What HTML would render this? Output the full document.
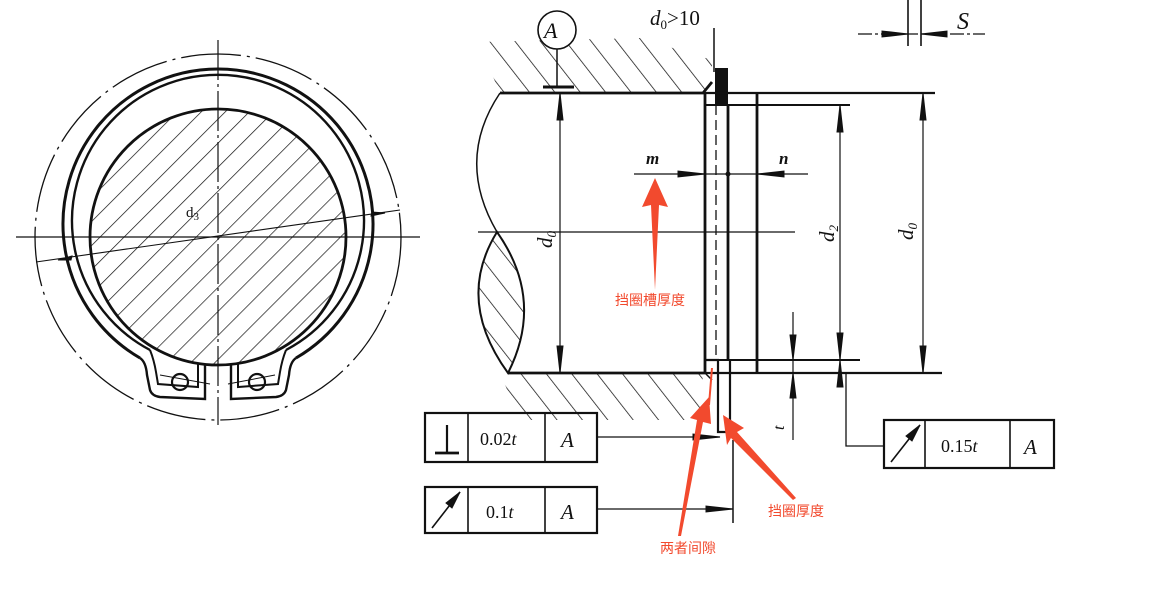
<!DOCTYPE html>
<html><head><meta charset="utf-8"><style>
html,body{margin:0;padding:0;background:#fff;}
svg{display:block;}
text{font-family:"Liberation Serif",serif;fill:#111;}
.cn{font-family:"Liberation Sans","Noto Sans CJK SC",sans-serif;fill:#f24a2e;font-size:14px;}
</style></head><body>
<svg width="1161" height="593" viewBox="0 0 1161 593" xmlns="http://www.w3.org/2000/svg">
<defs>
<pattern id="h1" patternUnits="userSpaceOnUse" width="17" height="17" patternTransform="rotate(45)">
<line x1="0" y1="0" x2="0" y2="17" stroke="#111" stroke-width="1.4"/></pattern>
<pattern id="h2" patternUnits="userSpaceOnUse" width="20" height="20" patternTransform="rotate(-38)">
<line x1="0" y1="0" x2="0" y2="20" stroke="#111" stroke-width="1.5"/></pattern>
<clipPath id="shaft"><circle cx="218" cy="237" r="128"/></clipPath>
</defs>
<g fill="none" stroke="#111">
<circle cx="218" cy="237" r="183" stroke-width="1.3" stroke-dasharray="60 6 3 6"/>
<path d="M140,358 A155,155 0 1 1 296,358" stroke-width="3"/>
<path d="M150,350 A146,146 0 1 1 286,350" stroke-width="2.4"/>
<circle cx="218" cy="237" r="128" stroke-width="2.8"/>
<rect x="88" y="108" width="260" height="260" fill="url(#h1)" stroke="none" clip-path="url(#shaft)"/>
<path d="M140,358 Q146,362 147,375 L150,390 Q152,396 160,397 L205,399 L205,364" stroke-width="2.4"/>
<path d="M150,350 Q154,360 156,372 L158,384 L198,387 L198,364" stroke-width="2"/>
<path d="M296,358 Q290,362 289,375 L286,390 Q284,396 276,397 L231,399 L231,364" stroke-width="2.4"/>
<path d="M286,350 Q282,360 280,372 L278,384 L238,387 L238,364" stroke-width="2"/>
<circle cx="180" cy="382" r="8" stroke-width="2.2"/>
<circle cx="257" cy="382" r="8" stroke-width="2.2"/>
<line x1="218" y1="40" x2="218" y2="425" stroke-width="1.2" stroke-dasharray="40 4 3 4"/>
<line x1="16" y1="237" x2="420" y2="237" stroke-width="1.3"/>
<line x1="36" y1="262" x2="400" y2="210" stroke-width="1.1"/>
<path d="M58,260 L72,256 L71,260Z M385,213 L371,216 L372,212Z" fill="#111"/>
<line x1="160" y1="375" x2="210" y2="384" stroke-width="1"/>
<line x1="228" y1="384" x2="275" y2="375" stroke-width="1"/>

<path d="M478,42 L640,38 L712,60 L712,82 L703,93 L500,93Z" fill="url(#h2)" stroke="none"/>
<path d="M500,373 L703,373 L700,420 L520,420Z" fill="url(#h2)" stroke="none"/>
<path d="M500,93 L703,93 L712,82" stroke-width="2.8"/>
<path d="M508,373 L705,373" stroke-width="2.8"/>
<path d="M500,93 Q455,160 497,232" stroke-width="1.5"/>
<path d="M497,232 Q455,300 508,373 Q545,300 497,232Z" fill="url(#h2)" stroke-width="2"/>
<line x1="478" y1="232" x2="795" y2="232" stroke-width="1.3"/>
<line x1="705" y1="93" x2="705" y2="373" stroke-width="2.8"/>
<line x1="728" y1="105" x2="728" y2="360" stroke-width="2.8"/>
<rect x="715" y="68" width="13" height="37" fill="#111" stroke="none"/>
<line x1="716" y1="105" x2="716" y2="360" stroke-width="1.3" stroke-dasharray="10 5"/>
<line x1="714" y1="28" x2="714" y2="72" stroke-width="1.5"/>
<path d="M705,360 L718,360 L718,432 L730,432 L730,360" stroke-width="2.2"/>
<path d="M705,373 L712,380" stroke-width="1.5"/>
<line x1="757" y1="93" x2="757" y2="373" stroke-width="2.8"/>
<line x1="703" y1="93" x2="935" y2="93" stroke-width="2.2"/>
<line x1="705" y1="105" x2="850" y2="105" stroke-width="2"/>
<line x1="705" y1="360" x2="860" y2="360" stroke-width="2"/>
<line x1="705" y1="373" x2="942" y2="373" stroke-width="2.2"/>
<line x1="560" y1="93" x2="560" y2="373" stroke-width="1.2"/>
<path d="M560,93 L557,120 L563,120Z M560,373 L557,346 L563,346Z" fill="#111"/>
<line x1="634" y1="174" x2="808" y2="174" stroke-width="1.3"/>
<path d="M705,174 L678,171 L678,177Z M757,174 L784,171 L784,177Z" fill="#111"/>
<circle cx="728" cy="174" r="2" fill="#111"/>
<line x1="840" y1="105" x2="840" y2="380" stroke-width="1.2"/>
<path d="M840,105 L837,132 L843,132Z M840,360 L837,333 L843,333Z M840,360 L837,387 L843,387Z" fill="#111"/>
<line x1="923" y1="93" x2="923" y2="373" stroke-width="1.2"/>
<path d="M923,93 L920,120 L926,120Z M923,373 L920,346 L926,346Z" fill="#111"/>
<line x1="793" y1="312" x2="793" y2="440" stroke-width="1.2"/>
<path d="M793,360 L790,335 L796,335Z M793,373 L790,398 L796,398Z" fill="#111"/>
<circle cx="557" cy="30" r="19" stroke-width="1.6" fill="#fff"/>
<line x1="557" y1="49" x2="557" y2="86" stroke-width="1.5"/>
<line x1="543" y1="87" x2="574" y2="87" stroke-width="3"/>
<line x1="908" y1="0" x2="908" y2="46" stroke-width="1.6"/>
<line x1="921" y1="0" x2="921" y2="46" stroke-width="1.6"/>
<line x1="858" y1="34" x2="985" y2="34" stroke-width="1.2" stroke-dasharray="14 3 3 3"/>
<path d="M908,34 L882,31 L882,37Z M921,34 L947,31 L947,37Z" fill="#111"/>
<rect x="425" y="413" width="172" height="49" stroke-width="2.2"/>
<line x1="468" y1="413" x2="468" y2="462" stroke-width="1.6"/>
<line x1="545" y1="413" x2="545" y2="462" stroke-width="1.6"/>
<line x1="447" y1="425" x2="447" y2="452" stroke-width="2.2"/>
<line x1="435" y1="453" x2="459" y2="453" stroke-width="2.8"/>
<line x1="597" y1="437" x2="720" y2="437" stroke-width="1.3"/>
<path d="M720,437 L693,434 L693,440Z" fill="#111"/>
<rect x="425" y="487" width="172" height="46" stroke-width="2.2"/>
<line x1="468" y1="487" x2="468" y2="533" stroke-width="1.6"/>
<line x1="545" y1="487" x2="545" y2="533" stroke-width="1.6"/>
<line x1="432" y1="528" x2="460" y2="492" stroke-width="1.6"/>
<path d="M460,492 L446,503 L452,508Z" fill="#111"/>
<line x1="597" y1="509" x2="733" y2="509" stroke-width="1.3"/>
<path d="M733,509 L706,506 L706,512Z" fill="#111"/>
<line x1="733" y1="440" x2="733" y2="523" stroke-width="1.5"/>
<rect x="884" y="420" width="170" height="48" stroke-width="2.2"/>
<line x1="925" y1="420" x2="925" y2="468" stroke-width="1.6"/>
<line x1="1010" y1="420" x2="1010" y2="468" stroke-width="1.6"/>
<line x1="891" y1="462" x2="920" y2="425" stroke-width="1.6"/>
<path d="M920,425 L906,436 L912,441Z" fill="#111"/>
<path d="M884,446 L846,446 L846,373" stroke-width="1.3"/>
</g>
<text x="544" y="38" font-size="22" font-style="italic">A</text>
<text x="650" y="25" font-size="21" font-style="italic">d<tspan font-size="13" dy="4" font-style="normal">0</tspan><tspan dy="-4" font-style="normal">&gt;10</tspan></text>
<text x="957" y="29" font-size="24" font-style="italic">S</text>
<text x="646" y="164" font-size="17" font-style="italic" font-weight="bold">m</text>
<text x="779" y="164" font-size="17" font-style="italic" font-weight="bold">n</text>
<text x="186" y="217" font-size="15">d<tspan font-size="11" dy="3">3</tspan></text>
<text transform="translate(552,248) rotate(-90)" font-size="21" font-style="italic">d<tspan font-size="13" dy="4">0</tspan></text>
<text transform="translate(834,242) rotate(-90)" font-size="21" font-style="italic">d<tspan font-size="13" dy="4">2</tspan></text>
<text transform="translate(913,240) rotate(-90)" font-size="21" font-style="italic">d<tspan font-size="13" dy="4">0</tspan></text>
<text transform="translate(784,430) rotate(-90)" font-size="16" font-style="italic">t</text>
<text x="480" y="445" font-size="18">0.02<tspan font-style="italic">t</tspan></text>
<text x="561" y="447" font-size="21" font-style="italic">A</text>
<text x="486" y="518" font-size="18">0.1<tspan font-style="italic">t</tspan></text>
<text x="561" y="519" font-size="21" font-style="italic">A</text>
<text x="941" y="452" font-size="18">0.15<tspan font-style="italic">t</tspan></text>
<text x="1024" y="454" font-size="21" font-style="italic">A</text>
<g fill="#f24a2e" stroke="none">
<path d="M655,178 L642,207 L651,205 L655,290 L659,205 L668,207Z"/>
<path d="M709,397 L690,418 L697,420 L678,536 L681,536 L703,422 L711,424Z"/>
<path d="M723,415 L727,445 L731,438 L793,500 L796,498 L737,432 L744,428Z"/>
<path d="M711,368 L713,368 L710,405 L708,405Z"/>
</g>
<text class="cn" x="615" y="305">挡圈槽厚度</text>
<text class="cn" x="768" y="516">挡圈厚度</text>
<text class="cn" x="660" y="553">两者间隙</text>
</svg>
</body></html>
